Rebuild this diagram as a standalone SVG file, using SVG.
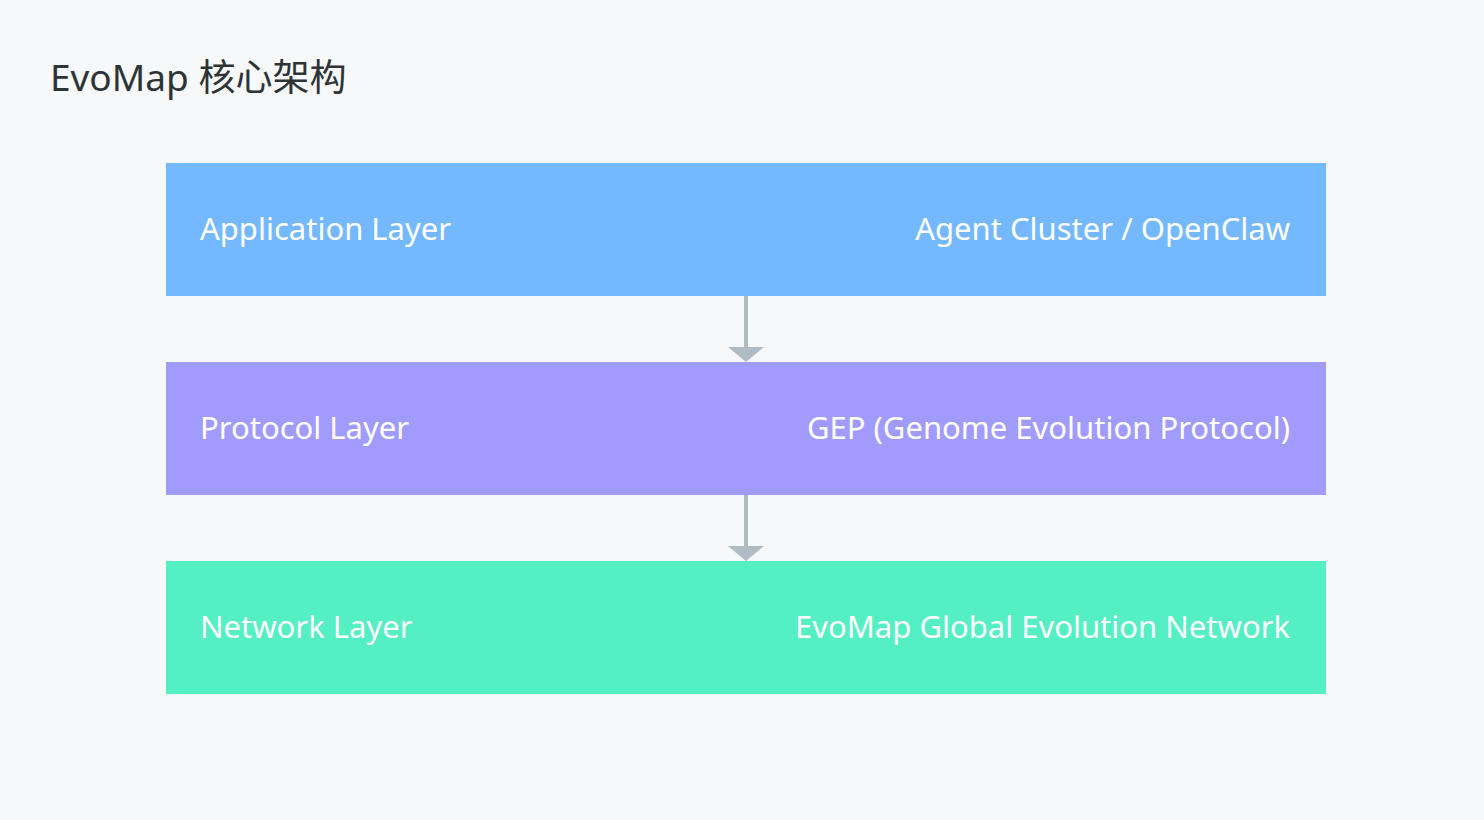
<svg xmlns="http://www.w3.org/2000/svg" width="1484" height="820" viewBox="0 0 1484 820">
<style>
text{font-family:"Noto Sans","Open Sans","Noto Sans CJK SC",sans-serif;}
.lbl{fill:#ffffff;font-size:31px;}
.r{text-anchor:end;}
.conn{stroke:#b0bcc3;stroke-width:4;fill:none;}
.head{fill:#b0bcc3;}
</style>
<rect width="1484" height="820" fill="#f7f8fa"/>
<text x="50" y="91" font-size="37" fill="#2d3436">EvoMap 核心架构</text>
<g id="app"><rect x="166" y="163" width="1160" height="133" fill="#74b9ff"/><text class="lbl" x="200" y="240">Application Layer</text><text class="lbl r" x="1290" y="240">Agent Cluster / OpenClaw</text></g>
<g id="proto"><rect x="166" y="362" width="1160" height="133" fill="#a29bfe"/><text class="lbl" x="200" y="439">Protocol Layer</text><text class="lbl r" x="1290" y="439">GEP (Genome Evolution Protocol)</text></g>
<g id="net"><rect x="166" y="561" width="1160" height="133" fill="#55efc4"/><text class="lbl" x="200" y="638">Network Layer</text><text class="lbl r" x="1290" y="638">EvoMap Global Evolution Network</text></g>
<g id="connectors">
<line class="conn" x1="746" y1="296" x2="746" y2="348"/><polygon class="head" points="728,347 764,347 746,362"/>
<line class="conn" x1="746" y1="495" x2="746" y2="547"/><polygon class="head" points="728,546 764,546 746,561"/>
</g>
</svg>
